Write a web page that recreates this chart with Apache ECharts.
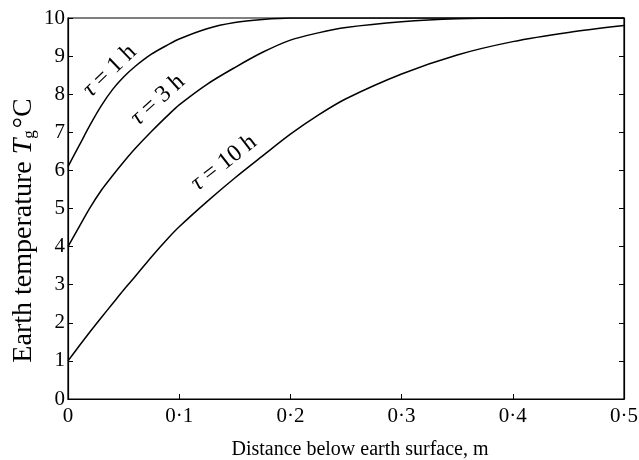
<!DOCTYPE html>
<html>
<head>
<meta charset="utf-8">
<script src="https://cdn.jsdelivr.net/npm/echarts@6/dist/echarts.min.js"></script>
<style>
  html, body { margin: 0; padding: 0; background: #fff; }
  #main { width: 639px; height: 460px; }
</style>
</head>
<body>
<div id="main"></div>
<script>
// depth below surface (m)
const depth = [0, 0.01, 0.02, 0.03, 0.04, 0.05, 0.06, 0.075, 0.09, 0.1, 0.125, 0.15, 0.175, 0.2, 0.225, 0.25, 0.3, 0.35, 0.4, 0.45, 0.5];
// earth temperature (°C) for each curve
const temp1h  = [6.1, 6.65, 7.2, 7.7, 8.12, 8.45, 8.72, 9.05, 9.3, 9.45, 9.72, 9.88, 9.96, 10, 10, 10, 10, 10, 10, 10, 10];
const temp3h  = [4.0, 4.52, 5.03, 5.48, 5.86, 6.22, 6.56, 7.02, 7.45, 7.72, 8.26, 8.7, 9.1, 9.42, 9.61, 9.75, 9.9, 9.98, 10, 10, 10];
const temp10h = [1.0, 1.39, 1.77, 2.14, 2.5, 2.86, 3.2, 3.73, 4.22, 4.52, 5.18, 5.8, 6.38, 6.95, 7.45, 7.88, 8.53, 9.03, 9.38, 9.62, 9.8];
const curveNames = ['1 h', '3 h', '10 h'];
// where each curve label sits [depth, temp, angle deg]
const labelSpots = [[0.0375, 8.61, 44], [0.0807, 7.85, 42], [0.1402, 6.2, 38]];

const font = '"Liberation Serif", "DejaVu Serif", serif';

const pairs = arr => depth.map((d, i) => [d, arr[i]]);

const chart = echarts.init(document.getElementById('main'));

const option = {
  animation: false,
  grid: {
    left: 68, right: 15, top: 18, bottom: 61,
    outerBoundsMode: 'none',
    containLabel: false,
    show: true, borderColor: '#000', borderWidth: 1.2
  },
  xAxis: {
    type: 'value', min: 0, max: 0.5, interval: 0.1,
    name: 'Distance below earth surface, m',
    nameLocation: 'middle', nameGap: 41, nameMoveOverlap: false,
    nameTextStyle: { color: '#000', fontFamily: font, fontSize: 20, padding: [0, 0, 0, 28] },
    axisLine: { lineStyle: { color: '#000', width: 1.2 } },
    axisTick: { inside: true, length: 5, lineStyle: { color: '#000' } },
    axisLabel: {
      color: '#000', fontFamily: font, fontSize: 21, margin: 7,
      formatter: v => v === 0 ? '0' : v.toFixed(1).replace('.', '·')
    },
    splitLine: { show: false }
  },
  yAxis: [{
    type: 'value', min: 0, max: 10, interval: 1,
    name: '{a|Earth temperature }{t|T}{s|g}{a|°C}',
    nameLocation: 'middle', nameGap: 30, nameRotate: 90, nameMoveOverlap: false,
    nameTextStyle: {
      color: '#000', fontFamily: font, fontSize: 28,
      padding: [0, 44, 0, 0],
      rich: {
        a: { fontFamily: font, fontSize: 28, color: '#000' },
        t: { fontFamily: font, fontSize: 28, fontStyle: 'italic', color: '#000' },
        s: { fontFamily: font, fontSize: 17, color: '#000', padding: [12, 2, 0, 0] }
      }
    },
    axisLine: { show: true, lineStyle: { color: '#000', width: 1.2 } },
    axisTick: { show: true, inside: true, length: 5, lineStyle: { color: '#000' } },
    axisLabel: { color: '#000', fontFamily: font, fontSize: 21, margin: 3 },
    splitLine: { show: false }
  }, {
    type: 'value', min: 0, max: 10, interval: 1, position: 'right',
    axisLine: { show: true, lineStyle: { color: '#000', width: 1.2 } },
    axisTick: { show: true, inside: true, length: 5, lineStyle: { color: '#000' } },
    axisLabel: { show: false },
    splitLine: { show: false }
  }],
  series: [temp1h, temp3h, temp10h].map((arr, i) => ({
    name: 'τ = ' + curveNames[i],
    type: 'line',
    data: pairs(arr),
    smooth: 0.3,
    symbol: 'none',
    lineStyle: { color: '#000', width: 1.5 }
  }))
};

chart.setOption(option);

// curve labels placed via data coordinates
chart.setOption({
  graphic: labelSpots.map((s, i) => {
    const p = chart.convertToPixel({ gridIndex: 0 }, [s[0], s[1]]);
    return {
      type: 'text',
      x: p[0], y: p[1],
      rotation: s[2] * Math.PI / 180,
      style: {
        text: '{g|τ} = ' + curveNames[i],
        font: '24px ' + font,
        fill: '#000',
        align: 'center',
        verticalAlign: 'middle',
        rich: {
          g: { font: 'italic 24px ' + font, fill: '#000' }
        }
      }
    };
  })
});
</script>
</body>
</html>
